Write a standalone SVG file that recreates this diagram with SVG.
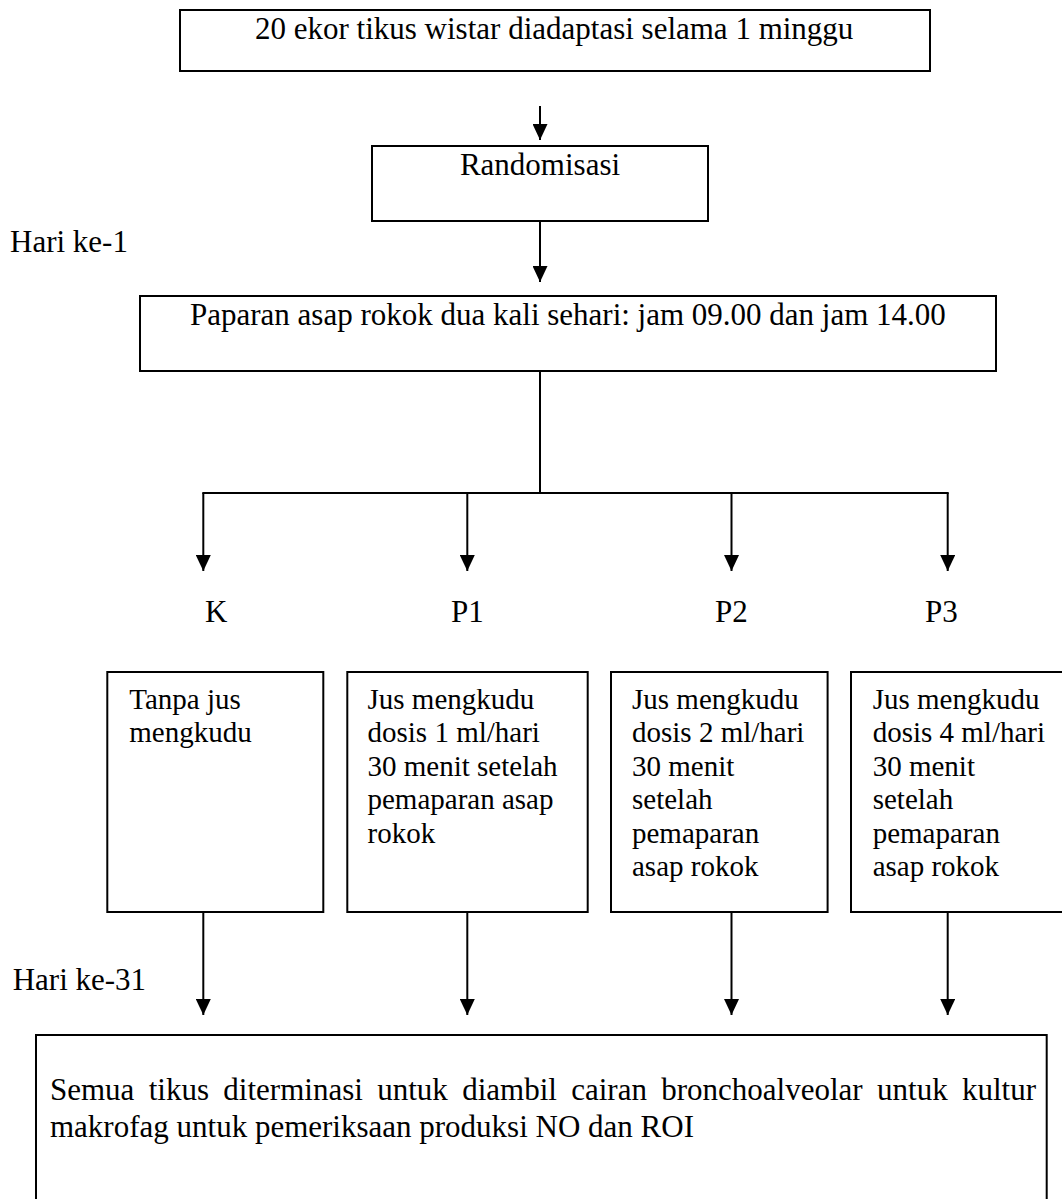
<svg xmlns="http://www.w3.org/2000/svg" width="1062" height="1199" viewBox="0 0 1062 1199">
<defs>
<style>
.box{fill:#fff;stroke:#000;stroke-width:2}
.t{font-family:"Liberation Serif","Times New Roman",serif;font-size:31px;fill:#000}
.s{font-family:"Liberation Serif","Times New Roman",serif;font-size:29px;fill:#000}
.ln{stroke:#000;stroke-width:2;fill:none}
</style>
<marker id="ah" markerUnits="userSpaceOnUse" markerWidth="16" markerHeight="15" viewBox="0 0 16 15" refX="16" refY="7.5" orient="auto">
<path d="M0,0 L16,7.5 L0,15 z" fill="#000"/>
</marker>
</defs>
<rect width="1062" height="1199" fill="#fff"/>
<g id="connectors">
<line class="ln" x1="540" y1="106" x2="540" y2="140" marker-end="url(#ah)"/>
<line class="ln" x1="540" y1="221" x2="540" y2="282" marker-end="url(#ah)"/>
<line class="ln" x1="540" y1="366" x2="540" y2="493" stroke-width="1.6"/>
<line class="ln" x1="202.3" y1="493" x2="948.7" y2="493"/>
<line class="ln" x1="203.3" y1="493" x2="203.3" y2="571" marker-end="url(#ah)"/>
<line class="ln" x1="467.3" y1="493" x2="467.3" y2="571" marker-end="url(#ah)"/>
<line class="ln" x1="731.5" y1="493" x2="731.5" y2="571" marker-end="url(#ah)"/>
<line class="ln" x1="947.7" y1="493" x2="947.7" y2="571" marker-end="url(#ah)"/>
<line class="ln" x1="203.3" y1="912" x2="203.3" y2="1015" marker-end="url(#ah)"/>
<line class="ln" x1="467.3" y1="912" x2="467.3" y2="1015" marker-end="url(#ah)"/>
<line class="ln" x1="731.5" y1="912" x2="731.5" y2="1015" marker-end="url(#ah)"/>
<line class="ln" x1="947.7" y1="912" x2="947.7" y2="1015" marker-end="url(#ah)"/>
</g>
<g id="n-adaptasi">
<rect class="box" x="180" y="10" width="750" height="61"/>
<text class="t" x="255" y="39">20 ekor tikus wistar diadaptasi selama 1 minggu</text>
</g>
<g id="n-randomisasi">
<rect class="box" x="372" y="146" width="336" height="75"/>
<text class="t" x="540" y="175" text-anchor="middle">Randomisasi</text>
</g>
<g id="lbl-hari1">
<text class="t" x="10" y="252">Hari ke-1</text>
</g>
<g id="n-paparan">
<rect class="box" x="140" y="296" width="856" height="75"/>
<text class="t" x="190" y="325">Paparan asap rokok dua kali sehari: jam 09.00 dan jam 14.00</text>
</g>
<g id="lbl-groups">
<text class="t" x="205" y="622">K</text>
<text class="t" x="451" y="622">P1</text>
<text class="t" x="715" y="622">P2</text>
<text class="t" x="925" y="622">P3</text>
</g>
<g id="n-k">
<rect class="box" x="107.3" y="672" width="216" height="240"/>
<text class="s" x="129.3" y="709">Tanpa jus</text>
<text class="s" x="129.3" y="742.4">mengkudu</text>
</g>
<g id="n-p1">
<rect class="box" x="347.3" y="672" width="240.4" height="240"/>
<text class="s" x="367.5" y="709">Jus mengkudu</text>
<text class="s" x="367.5" y="742.4">dosis 1 ml/hari</text>
<text class="s" x="367.5" y="775.8">30 menit setelah</text>
<text class="s" x="367.5" y="809.2">pemaparan asap</text>
<text class="s" x="367.5" y="842.6">rokok</text>
</g>
<g id="n-p2">
<rect class="box" x="611" y="672" width="216.6" height="240"/>
<text class="s" x="632" y="709">Jus mengkudu</text>
<text class="s" x="632" y="742.4">dosis 2 ml/hari</text>
<text class="s" x="632" y="775.8">30 menit</text>
<text class="s" x="632" y="809.2">setelah</text>
<text class="s" x="632" y="842.6">pemaparan</text>
<text class="s" x="632" y="876">asap rokok</text>
</g>
<g id="n-p3">
<rect class="box" x="851" y="672" width="215" height="240"/>
<text class="s" x="872.7" y="709">Jus mengkudu</text>
<text class="s" x="872.7" y="742.4">dosis 4 ml/hari</text>
<text class="s" x="872.7" y="775.8">30 menit</text>
<text class="s" x="872.7" y="809.2">setelah</text>
<text class="s" x="872.7" y="842.6">pemaparan</text>
<text class="s" x="872.7" y="876">asap rokok</text>
</g>
<g id="lbl-hari31">
<text class="t" x="12.7" y="990">Hari ke-31</text>
</g>
<g id="n-terminasi">
<rect class="box" x="36" y="1035" width="1010.7" height="180"/>
<text class="t" x="50" y="1100" word-spacing="6.6">Semua tikus diterminasi untuk diambil cairan bronchoalveolar untuk kultur</text>
<text class="t" x="50" y="1136.7">makrofag untuk pemeriksaan produksi NO dan ROI</text>
</g>
</svg>
